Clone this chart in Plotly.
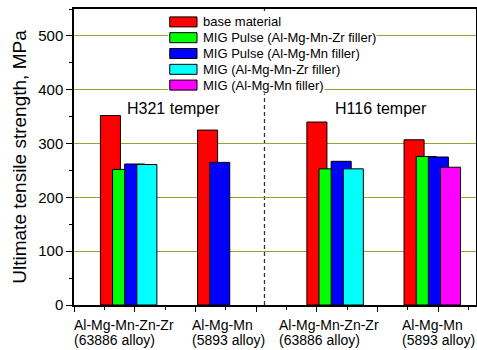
import plotly.graph_objects as go

# ---- data ----
series_names = [
    "base material",
    "MIG Pulse (Al-Mg-Mn-Zr filler)",
    "MIG Pulse (Al-Mg-Mn filler)",
    "MIG (Al-Mg-Mn-Zr filler)",
    "MIG (Al-Mg-Mn filler)",
]
base_material = [352, 325, 340, 307]
mig_pulse_zr = [252, 253, 276]
mig_pulse_mn = [262, 265, 267, 275]
mig_zr = [261, 253]
mig_mn = [256]

alloy_line1 = ["Al-Mg-Mn-Zn-Zr", "Al-Mg-Mn", "Al-Mg-Mn-Zn-Zr", "Al-Mg-Mn"]
alloy_line2 = ["(63886 alloy)", "(5893 alloy)", "(63886 alloy)", "(5893 alloy)"]
temper_labels = ["H321 temper", "H116 temper"]

# ---- layout (positions / styles) ----
bar_x = [
    [0.6, 2.2, 4.0, 5.6],
    [0.8, 4.2, 5.8],
    [1.0, 2.4, 4.4, 6.0],
    [1.2, 4.6],
    [6.2],
]
values = [base_material, mig_pulse_zr, mig_pulse_mn, mig_zr, mig_mn]
colors = ["#ff0000", "#00ff00", "#0000ff", "#00ffff", "#ff00ff"]
label_x = [0.0, 1.94, 3.37, 5.40]
temper_x = [0.835, 4.26]
divider_x = 3.137

# manual legend geometry (data units)
leg_sw_x0, leg_sw_x1, leg_txt_x = 1.577, 2.026, 2.104
leg_rows_y = [526.0, 496.7, 467.3, 437.9, 408.6]
leg_sw_half = 9.3

FONT = "Liberation Sans, Arial, sans-serif"

fig = go.Figure()
for name, xs, ys, c in zip(series_names, bar_x, values, colors):
    fig.add_trace(go.Bar(
        x=xs, y=ys, name=name, width=0.33,
        marker=dict(color=c, line=dict(color="black", width=1)),
    ))

annotations = []
for x, t1, t2 in zip(label_x, alloy_line1, alloy_line2):
    annotations.append(dict(x=x, y=0, xref="x", yref="paper", text=t1,
                            xanchor="left", yanchor="top", yshift=-10, xshift=-2,
                            showarrow=False, font=dict(size=14, family=FONT, color="black")))
    annotations.append(dict(x=x, y=0, xref="x", yref="paper", text=t2,
                            xanchor="left", yanchor="top", yshift=-25, xshift=-2,
                            showarrow=False, font=dict(size=14, family=FONT, color="black")))
for x, t in zip(temper_x, temper_labels):
    annotations.append(dict(x=x, y=366, xref="x", yref="y", text=t,
                            xanchor="left", yanchor="middle",
                            showarrow=False, font=dict(size=16, family=FONT, color="black")))

shapes = [dict(type="line", xref="x", yref="y", x0=divider_x, x1=divider_x,
               y0=0, y1=550, layer="below",
               line=dict(color="#333333", width=1.3, dash="4px,3px"))]
# legend: white backing behind swatches, swatches, then text entries
shapes.append(dict(type="rect", xref="x", yref="y", x0=leg_sw_x0 - 0.03, x1=leg_txt_x + 0.02,
                   y0=leg_rows_y[-1] - 15, y1=leg_rows_y[0] + 15, layer="above",
                   fillcolor="white", line=dict(width=0)))
for name, c, yc in zip(series_names, colors, leg_rows_y):
    shapes.append(dict(type="rect", xref="x", yref="y", x0=leg_sw_x0, x1=leg_sw_x1,
                       y0=yc - leg_sw_half, y1=yc + leg_sw_half, layer="above",
                       fillcolor=c, line=dict(color="black", width=1)))
    annotations.append(dict(x=leg_txt_x, y=yc, xref="x", yref="y", text=name,
                            xanchor="left", yanchor="middle", showarrow=False,
                            bgcolor="white", borderpad=0,
                            font=dict(size=13, family=FONT, color="black")))

fig.update_layout(
    width=477, height=350,
    margin=dict(l=74, r=1, t=9, b=45),
    paper_bgcolor="white", plot_bgcolor="white",
    barmode="overlay",
    font=dict(family=FONT, color="black"),
    showlegend=False,
    annotations=annotations,
    shapes=shapes,
)
fig.update_xaxes(
    range=[0, 6.62], showgrid=False, zeroline=False, automargin=False,
    showline=True, linecolor="black", linewidth=1.5, mirror=True,
    tickmode="linear", tick0=0, dtick=1, ticks="outside", ticklen=5,
    tickcolor="black", showticklabels=False,
    minor=dict(ticks="outside", ticklen=3, dtick=0.5, tick0=0, tickcolor="black"),
)
fig.update_yaxes(
    range=[0, 550], showgrid=True, gridcolor="#9e9e2a", gridwidth=1,
    zeroline=False, showline=True, linecolor="black", linewidth=1.5, mirror=True,
    automargin=False,
    tickmode="linear", tick0=0, dtick=100, ticks="outside", ticklen=6,
    tickcolor="black", tickfont=dict(size=15, family=FONT, color="black"),
    minor=dict(ticks="outside", ticklen=3, dtick=50, tick0=0, tickcolor="black", showgrid=False),
    title=dict(text="Ultimate tensile strength, MPa", standoff=7,
               font=dict(size=19, family=FONT, color="black")),
)

fig.write_html("out.html", config={"displayModeBar": False},
               post_script="document.body.style.margin='0';")
